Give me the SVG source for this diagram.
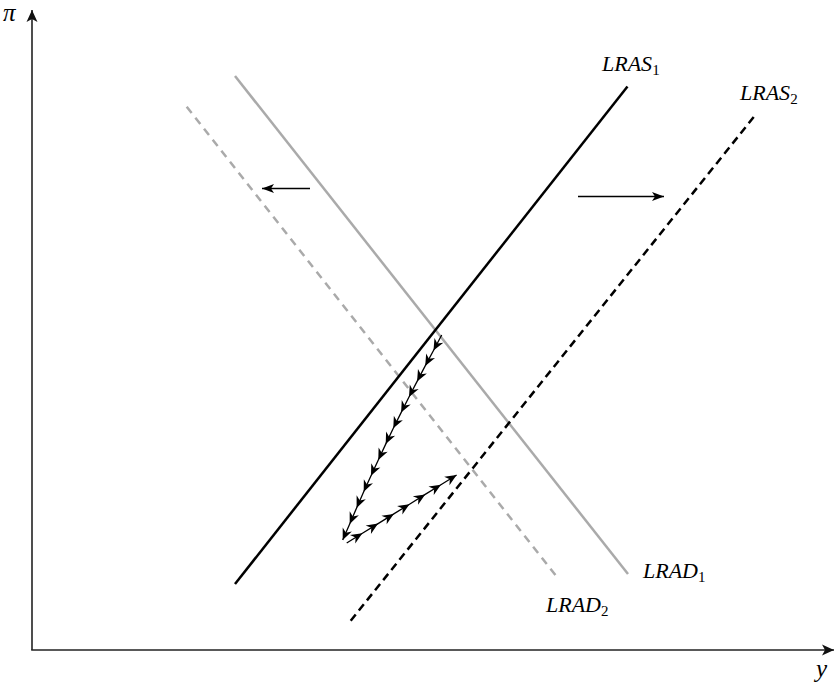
<svg xmlns="http://www.w3.org/2000/svg" width="835" height="683" viewBox="0 0 835 683">
<defs>
<style>
.lbl{font-family:"Liberation Serif","DejaVu Serif",serif;font-style:italic;font-size:22px;fill:#000}
.sub{font-style:normal;font-size:15px}
.big{font-size:25px}
.ax{stroke:#222;stroke-width:1.6;fill:none}
.dyn{stroke:#000;stroke-width:1.3;fill:none;marker-mid:url(#ah);marker-end:url(#ah)}
.shift{stroke:#000;stroke-width:1.3;fill:none;marker-end:url(#sh)}
</style>
<marker id="ah" markerUnits="userSpaceOnUse" markerWidth="14" markerHeight="12" viewBox="-12 -6 14 12" refX="0" refY="0" orient="auto">
<path d="M0,0 L-11.5,-5 L-8,0 L-11.5,5 Z" fill="#000"/>
</marker>
<marker id="sh" markerUnits="userSpaceOnUse" markerWidth="14" markerHeight="10" viewBox="-12 -5 14 10" refX="0" refY="0" orient="auto">
<path d="M0,0 L-12,-4.5 L-9,0 L-12,4.5 Z" fill="#000"/>
</marker>
<marker id="axh" markerUnits="userSpaceOnUse" markerWidth="14" markerHeight="14" viewBox="-13 -7 14 14" refX="0" refY="0" orient="auto">
<path d="M0,0 L-12,-5.5 L-9,0 L-12,5.5 Z" fill="#111"/>
</marker>
</defs>
<g id="axes">
<line class="ax" x1="32" y1="650" x2="32" y2="10" marker-end="url(#axh)"/>
<line class="ax" x1="31.2" y1="650" x2="834" y2="650" marker-end="url(#axh)"/>
<text class="lbl big" x="3" y="21">π</text>
<text class="lbl big" x="816" y="677">y</text>
</g>
<g id="LRAD2">
<line x1="186.7" y1="106.7" x2="557" y2="577" stroke="#aaa" stroke-width="2.5" stroke-dasharray="8,6"/>
<text class="lbl" x="546" y="612">LRAD<tspan class="sub" dy="4">2</tspan></text>
</g>
<g id="LRAD1">
<line x1="235" y1="76" x2="628" y2="574" stroke="#aaa" stroke-width="2.5"/>
<text class="lbl" x="643" y="578">LRAD<tspan class="sub" dy="4">1</tspan></text>
</g>
<g id="LRAS1">
<line x1="235" y1="584" x2="627.5" y2="86.5" stroke="#000" stroke-width="2.5"/>
<text class="lbl" x="602" y="71">LRAS<tspan class="sub" dy="4">1</tspan></text>
</g>
<g id="LRAS2">
<line x1="350.7" y1="620.7" x2="754" y2="116.7" stroke="#000" stroke-width="2.5" stroke-dasharray="8,5"/>
<text class="lbl" x="740" y="100">LRAS<tspan class="sub" dy="4">2</tspan></text>
</g>
<g id="connectors">
<line class="shift" x1="310" y1="188.5" x2="262" y2="188.5"/>
<line class="shift" x1="578" y1="196.5" x2="664" y2="196.5"/>
<polyline class="dyn" points="441.7,335 433.5,350.5 425.2,365.9 417.1,381.4 409.0,397.0 401.1,412.6 393.3,428.3 385.7,444.1 378.3,460.0 371.0,475.8 363.7,491.8 356.6,507.9 349.7,523.9 342.7,540"/>
<polyline class="dyn" points="346.7,543 362.4,533.3 378.1,523.6 393.8,513.9 409.5,504.2 425.2,494.4 440.9,484.7 456.6,475"/>
</g>
</svg>
